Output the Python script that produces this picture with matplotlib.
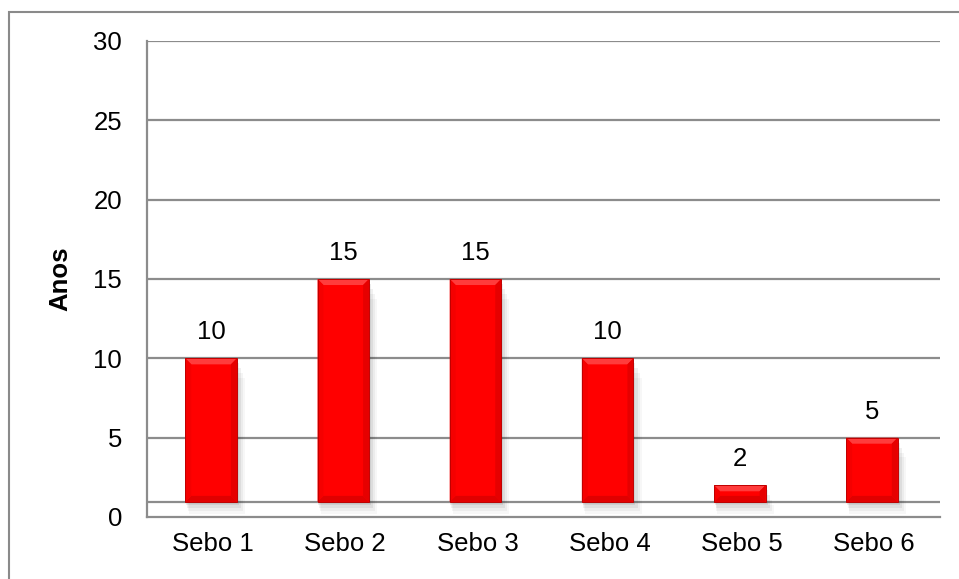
import matplotlib
matplotlib.use("Agg")
import matplotlib.pyplot as plt
from matplotlib.patches import Rectangle, Polygon

plt.rcParams['font.family'] = ['Liberation Sans', 'DejaVu Sans']

categories = ["Sebo 1", "Sebo 2", "Sebo 3", "Sebo 4", "Sebo 5", "Sebo 6"]
values = [10, 15, 15, 10, 2, 5]
y_ticks = [0, 5, 10, 15, 20, 25, 30]
y_label = "Anos"

floor = 0.95          # top face of the 3-D floor
bar_w = 0.39
bev_x = 0.045         # bevel depth, x units
bev_y = 0.38          # bevel depth, y units
grid_c = "#8c8c8c"

fig = plt.figure(figsize=(9.59, 5.79), dpi=100)
ax = fig.add_axes([0.1533, 0.1071, 0.9802 - 0.1533, 0.9292 - 0.1071])

# outer chart frame
fig.patches.append(Rectangle((9 / 959, -0.05), 1.2, 1 - 12 / 579 + 0.05,
                             transform=fig.transFigure, fill=False,
                             edgecolor="#8a8a8a", linewidth=1.5))

ax.set_xlim(-0.5, len(categories) - 0.5)
ax.set_ylim(0, 30)
ax.set_yticks(y_ticks)
ax.set_xticks(range(len(categories)))
ax.set_xticklabels(categories)
ax.tick_params(axis="both", length=0, labelsize=18.5, colors="black")
ax.tick_params(axis="y", pad=18)
ax.tick_params(axis="x", pad=11)
ax.set_ylabel(y_label, fontsize=18.5, fontweight="bold", labelpad=15)

for s in ["top", "right"]:
    ax.spines[s].set_visible(False)
for s in ["left", "bottom"]:
    ax.spines[s].set_color(grid_c)
    ax.spines[s].set_linewidth(1.6)

for t in y_ticks[1:]:
    ax.axhline(t, color=grid_c, linewidth=1.6, zorder=1)
ax.axhline(floor, color=grid_c, linewidth=1.6, zorder=1)

for i, (cat, v) in enumerate(zip(categories, values)):
    x0 = i - 0.015 - bar_w / 2
    x1 = x0 + bar_w
    y0, y1 = floor, v
    # soft drop shadow
    for k, a in enumerate([0.07, 0.06, 0.045, 0.03]):
        d = 0.012 * (k + 1)
        ax.add_patch(Rectangle((x0 + d * 0.5, y0 - d * 16), bar_w + d * 0.8,
                               (y1 - y0) - d * 10, facecolor="black",
                               edgecolor="none", alpha=a, zorder=2))
    # bar body
    ax.add_patch(Rectangle((x0, y0), bar_w, y1 - y0, facecolor="#ff0000",
                           edgecolor="none", zorder=3))
    by = min(bev_y, (y1 - y0) / 2.5)
    # bevel faces
    ax.add_patch(Polygon([(x0, y1), (x1, y1), (x1 - bev_x, y1 - by), (x0 + bev_x, y1 - by)],
                         closed=True, facecolor="#ff3c3c", edgecolor="none", zorder=4))
    ax.add_patch(Polygon([(x0, y0), (x1, y0), (x1 - bev_x, y0 + by), (x0 + bev_x, y0 + by)],
                         closed=True, facecolor="#e00000", edgecolor="none", zorder=4))
    ax.add_patch(Polygon([(x0, y0), (x0, y1), (x0 + bev_x, y1 - by), (x0 + bev_x, y0 + by)],
                         closed=True, facecolor="#f50000", edgecolor="none", zorder=4))
    ax.add_patch(Polygon([(x1, y0), (x1, y1), (x1 - bev_x, y1 - by), (x1 - bev_x, y0 + by)],
                         closed=True, facecolor="#e60000", edgecolor="none", zorder=4))
    ax.add_patch(Rectangle((x0, y0), bar_w, y1 - y0, facecolor="none",
                           edgecolor="#c00000", linewidth=0.7, zorder=5))
    ax.annotate(str(v), (i - 0.015, v), xytext=(0, 10), textcoords="offset points",
                ha="center", va="bottom", fontsize=18.5, zorder=6)

fig.savefig("out.png", dpi=100)
